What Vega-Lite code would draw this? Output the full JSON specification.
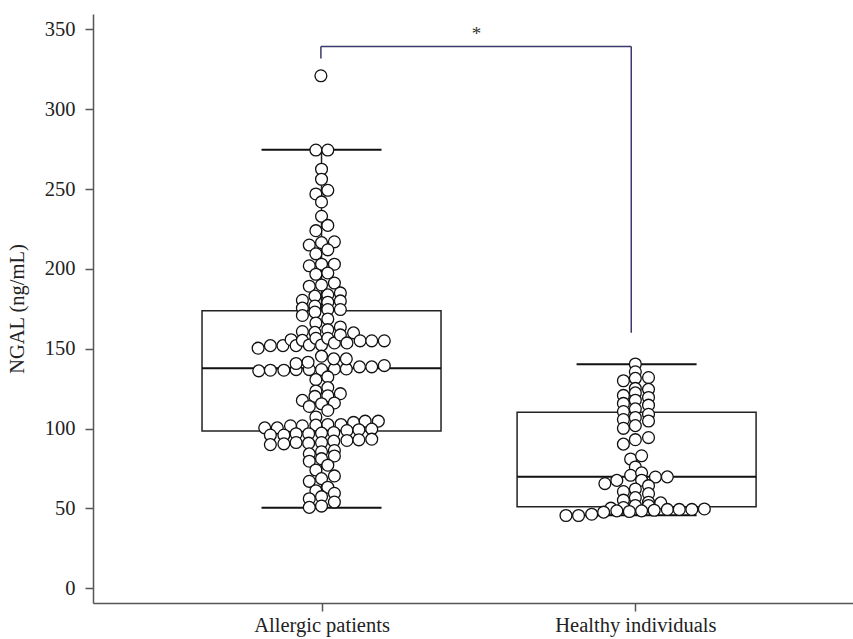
{
  "$schema": "https://vega.github.io/schema/vega-lite/v6.json",
  "width": 760,
  "height": 589,
  "autosize": {"type": "none"},
  "padding": {"left": 93, "top": 14, "right": 0, "bottom": 36},
  "background": "white",
  "config": {
    "view": {"stroke": null},
    "axis": {
      "domainColor": "#555555",
      "domainWidth": 1.5,
      "tickColor": "#555555",
      "tickWidth": 1.5,
      "tickSize": 8,
      "grid": false,
      "labelFont": "Liberation Serif",
      "labelFontSize": 20.5,
      "labelColor": "#222222",
      "titleFont": "Liberation Serif",
      "titleFontSize": 20.5,
      "titleFontWeight": "normal",
      "titleColor": "#222222"
    }
  },
  "datasets": {
    "summary": [
      {"group": "Allergic patients", "pos": 1.0, "lo": 50.5, "q1": 98.5, "median": 137.8, "q3": 173.8, "hi": 274.6},
      {"group": "Healthy individuals", "pos": 2.004, "lo": 45.7, "q1": 51.1, "median": 69.9, "q3": 110.2, "hi": 140.3}
    ],
    "points": [
      {"group": "Allergic patients", "pos": 0.982, "ngal": 274.5},
      {"group": "Allergic patients", "pos": 1.020, "ngal": 274.5},
      {"group": "Allergic patients", "pos": 1.000, "ngal": 262.5},
      {"group": "Allergic patients", "pos": 1.000, "ngal": 256.2},
      {"group": "Allergic patients", "pos": 0.982, "ngal": 247.0},
      {"group": "Allergic patients", "pos": 1.020, "ngal": 249.3},
      {"group": "Allergic patients", "pos": 1.000, "ngal": 242.0},
      {"group": "Allergic patients", "pos": 1.000, "ngal": 233.0},
      {"group": "Allergic patients", "pos": 0.982, "ngal": 224.0},
      {"group": "Allergic patients", "pos": 1.020, "ngal": 227.3},
      {"group": "Allergic patients", "pos": 0.961, "ngal": 215.0},
      {"group": "Allergic patients", "pos": 1.000, "ngal": 216.5},
      {"group": "Allergic patients", "pos": 1.041, "ngal": 217.0},
      {"group": "Allergic patients", "pos": 0.982, "ngal": 209.5},
      {"group": "Allergic patients", "pos": 1.020, "ngal": 212.0},
      {"group": "Allergic patients", "pos": 0.961, "ngal": 202.0},
      {"group": "Allergic patients", "pos": 1.000, "ngal": 203.0},
      {"group": "Allergic patients", "pos": 1.041, "ngal": 203.0},
      {"group": "Allergic patients", "pos": 0.982, "ngal": 196.7},
      {"group": "Allergic patients", "pos": 1.020, "ngal": 197.5},
      {"group": "Allergic patients", "pos": 0.961, "ngal": 189.2},
      {"group": "Allergic patients", "pos": 1.000, "ngal": 190.0},
      {"group": "Allergic patients", "pos": 1.041, "ngal": 191.2},
      {"group": "Allergic patients", "pos": 0.939, "ngal": 180.4},
      {"group": "Allergic patients", "pos": 0.979, "ngal": 183.0},
      {"group": "Allergic patients", "pos": 1.020, "ngal": 183.8},
      {"group": "Allergic patients", "pos": 1.060, "ngal": 185.0},
      {"group": "Allergic patients", "pos": 0.939, "ngal": 175.5},
      {"group": "Allergic patients", "pos": 0.979, "ngal": 176.8},
      {"group": "Allergic patients", "pos": 1.020, "ngal": 179.2},
      {"group": "Allergic patients", "pos": 1.060, "ngal": 180.0},
      {"group": "Allergic patients", "pos": 0.939, "ngal": 170.9},
      {"group": "Allergic patients", "pos": 0.979, "ngal": 173.0},
      {"group": "Allergic patients", "pos": 1.020, "ngal": 174.6},
      {"group": "Allergic patients", "pos": 1.060, "ngal": 174.6},
      {"group": "Allergic patients", "pos": 0.982, "ngal": 166.2},
      {"group": "Allergic patients", "pos": 1.020, "ngal": 168.7},
      {"group": "Allergic patients", "pos": 0.939, "ngal": 160.8},
      {"group": "Allergic patients", "pos": 0.979, "ngal": 160.3},
      {"group": "Allergic patients", "pos": 1.020, "ngal": 162.0},
      {"group": "Allergic patients", "pos": 1.060, "ngal": 163.7},
      {"group": "Allergic patients", "pos": 1.102, "ngal": 160.0},
      {"group": "Allergic patients", "pos": 0.798, "ngal": 150.4},
      {"group": "Allergic patients", "pos": 0.837, "ngal": 152.0},
      {"group": "Allergic patients", "pos": 0.877, "ngal": 152.0},
      {"group": "Allergic patients", "pos": 0.903, "ngal": 155.7},
      {"group": "Allergic patients", "pos": 0.919, "ngal": 152.0},
      {"group": "Allergic patients", "pos": 0.939, "ngal": 155.3},
      {"group": "Allergic patients", "pos": 0.961, "ngal": 152.4},
      {"group": "Allergic patients", "pos": 0.982, "ngal": 156.6},
      {"group": "Allergic patients", "pos": 1.000, "ngal": 152.4},
      {"group": "Allergic patients", "pos": 1.020, "ngal": 156.6},
      {"group": "Allergic patients", "pos": 1.041, "ngal": 153.7},
      {"group": "Allergic patients", "pos": 1.060, "ngal": 158.7},
      {"group": "Allergic patients", "pos": 1.081, "ngal": 153.7},
      {"group": "Allergic patients", "pos": 1.123, "ngal": 155.0},
      {"group": "Allergic patients", "pos": 1.160, "ngal": 155.0},
      {"group": "Allergic patients", "pos": 1.200, "ngal": 155.0},
      {"group": "Allergic patients", "pos": 0.800, "ngal": 136.2},
      {"group": "Allergic patients", "pos": 0.837, "ngal": 136.6},
      {"group": "Allergic patients", "pos": 0.880, "ngal": 136.6},
      {"group": "Allergic patients", "pos": 0.919, "ngal": 137.0},
      {"group": "Allergic patients", "pos": 0.961, "ngal": 137.0},
      {"group": "Allergic patients", "pos": 1.000, "ngal": 137.0},
      {"group": "Allergic patients", "pos": 1.041, "ngal": 137.4},
      {"group": "Allergic patients", "pos": 1.079, "ngal": 137.4},
      {"group": "Allergic patients", "pos": 1.121, "ngal": 138.7},
      {"group": "Allergic patients", "pos": 1.160, "ngal": 138.7},
      {"group": "Allergic patients", "pos": 1.200, "ngal": 139.5},
      {"group": "Allergic patients", "pos": 1.000, "ngal": 145.4},
      {"group": "Allergic patients", "pos": 0.957, "ngal": 141.6},
      {"group": "Allergic patients", "pos": 0.919, "ngal": 140.8},
      {"group": "Allergic patients", "pos": 1.039, "ngal": 143.7},
      {"group": "Allergic patients", "pos": 1.079, "ngal": 143.7},
      {"group": "Allergic patients", "pos": 0.982, "ngal": 130.7},
      {"group": "Allergic patients", "pos": 1.020, "ngal": 132.4},
      {"group": "Allergic patients", "pos": 0.982, "ngal": 123.6},
      {"group": "Allergic patients", "pos": 1.020, "ngal": 125.7},
      {"group": "Allergic patients", "pos": 1.060, "ngal": 121.9},
      {"group": "Allergic patients", "pos": 0.979, "ngal": 120.2},
      {"group": "Allergic patients", "pos": 0.939, "ngal": 117.7},
      {"group": "Allergic patients", "pos": 1.020, "ngal": 120.6},
      {"group": "Allergic patients", "pos": 0.961, "ngal": 113.9},
      {"group": "Allergic patients", "pos": 1.000, "ngal": 115.6},
      {"group": "Allergic patients", "pos": 1.041, "ngal": 116.1},
      {"group": "Allergic patients", "pos": 1.020, "ngal": 111.4},
      {"group": "Allergic patients", "pos": 0.982, "ngal": 107.3},
      {"group": "Allergic patients", "pos": 0.819, "ngal": 100.5},
      {"group": "Allergic patients", "pos": 0.859, "ngal": 100.5},
      {"group": "Allergic patients", "pos": 0.901, "ngal": 101.8},
      {"group": "Allergic patients", "pos": 0.939, "ngal": 101.8},
      {"group": "Allergic patients", "pos": 0.982, "ngal": 102.2},
      {"group": "Allergic patients", "pos": 1.020, "ngal": 102.6},
      {"group": "Allergic patients", "pos": 1.062, "ngal": 102.6},
      {"group": "Allergic patients", "pos": 1.102, "ngal": 103.9},
      {"group": "Allergic patients", "pos": 1.139, "ngal": 104.7},
      {"group": "Allergic patients", "pos": 1.181, "ngal": 104.7},
      {"group": "Allergic patients", "pos": 0.837, "ngal": 96.0},
      {"group": "Allergic patients", "pos": 0.880, "ngal": 96.0},
      {"group": "Allergic patients", "pos": 0.919, "ngal": 96.8},
      {"group": "Allergic patients", "pos": 0.959, "ngal": 96.8},
      {"group": "Allergic patients", "pos": 1.000, "ngal": 97.2},
      {"group": "Allergic patients", "pos": 1.039, "ngal": 97.6},
      {"group": "Allergic patients", "pos": 1.081, "ngal": 98.8},
      {"group": "Allergic patients", "pos": 1.119, "ngal": 99.3},
      {"group": "Allergic patients", "pos": 1.160, "ngal": 99.7},
      {"group": "Allergic patients", "pos": 0.837, "ngal": 90.0},
      {"group": "Allergic patients", "pos": 0.880, "ngal": 90.5},
      {"group": "Allergic patients", "pos": 0.919, "ngal": 91.3},
      {"group": "Allergic patients", "pos": 0.959, "ngal": 90.9},
      {"group": "Allergic patients", "pos": 1.000, "ngal": 91.3},
      {"group": "Allergic patients", "pos": 1.039, "ngal": 92.2},
      {"group": "Allergic patients", "pos": 1.081, "ngal": 92.6},
      {"group": "Allergic patients", "pos": 1.119, "ngal": 93.0},
      {"group": "Allergic patients", "pos": 1.160, "ngal": 93.4},
      {"group": "Allergic patients", "pos": 0.961, "ngal": 84.2},
      {"group": "Allergic patients", "pos": 1.000, "ngal": 85.5},
      {"group": "Allergic patients", "pos": 1.041, "ngal": 86.3},
      {"group": "Allergic patients", "pos": 0.961, "ngal": 79.6},
      {"group": "Allergic patients", "pos": 1.000, "ngal": 81.2},
      {"group": "Allergic patients", "pos": 1.041, "ngal": 82.9},
      {"group": "Allergic patients", "pos": 0.982, "ngal": 74.1},
      {"group": "Allergic patients", "pos": 1.020, "ngal": 77.1},
      {"group": "Allergic patients", "pos": 0.961, "ngal": 67.0},
      {"group": "Allergic patients", "pos": 1.000, "ngal": 68.7},
      {"group": "Allergic patients", "pos": 1.041, "ngal": 70.4},
      {"group": "Allergic patients", "pos": 0.982, "ngal": 61.1},
      {"group": "Allergic patients", "pos": 1.020, "ngal": 63.3},
      {"group": "Allergic patients", "pos": 1.041, "ngal": 59.5},
      {"group": "Allergic patients", "pos": 0.961, "ngal": 56.1},
      {"group": "Allergic patients", "pos": 1.000, "ngal": 57.4},
      {"group": "Allergic patients", "pos": 1.041, "ngal": 54.0},
      {"group": "Allergic patients", "pos": 0.961, "ngal": 50.7},
      {"group": "Allergic patients", "pos": 1.000, "ngal": 51.5},
      {"group": "Allergic patients", "pos": 0.998, "ngal": 321.0},
      {"group": "Healthy individuals", "pos": 2.000, "ngal": 140.5},
      {"group": "Healthy individuals", "pos": 2.000, "ngal": 135.6},
      {"group": "Healthy individuals", "pos": 1.962, "ngal": 130.0},
      {"group": "Healthy individuals", "pos": 2.000, "ngal": 131.5},
      {"group": "Healthy individuals", "pos": 2.042, "ngal": 132.0},
      {"group": "Healthy individuals", "pos": 2.000, "ngal": 125.2},
      {"group": "Healthy individuals", "pos": 2.042, "ngal": 124.6},
      {"group": "Healthy individuals", "pos": 1.962, "ngal": 120.8},
      {"group": "Healthy individuals", "pos": 2.000, "ngal": 122.4},
      {"group": "Healthy individuals", "pos": 2.042, "ngal": 119.5},
      {"group": "Healthy individuals", "pos": 1.962, "ngal": 115.8},
      {"group": "Healthy individuals", "pos": 2.000, "ngal": 117.8},
      {"group": "Healthy individuals", "pos": 2.042, "ngal": 114.7},
      {"group": "Healthy individuals", "pos": 1.962, "ngal": 110.7},
      {"group": "Healthy individuals", "pos": 2.000, "ngal": 112.4},
      {"group": "Healthy individuals", "pos": 2.042, "ngal": 109.0},
      {"group": "Healthy individuals", "pos": 1.962, "ngal": 105.7},
      {"group": "Healthy individuals", "pos": 2.000, "ngal": 107.0},
      {"group": "Healthy individuals", "pos": 2.042, "ngal": 104.8},
      {"group": "Healthy individuals", "pos": 1.962, "ngal": 100.2},
      {"group": "Healthy individuals", "pos": 2.000, "ngal": 101.9},
      {"group": "Healthy individuals", "pos": 1.962, "ngal": 90.3},
      {"group": "Healthy individuals", "pos": 2.000, "ngal": 93.1},
      {"group": "Healthy individuals", "pos": 2.042, "ngal": 94.4},
      {"group": "Healthy individuals", "pos": 1.985, "ngal": 81.0},
      {"group": "Healthy individuals", "pos": 2.020, "ngal": 83.0},
      {"group": "Healthy individuals", "pos": 2.000, "ngal": 76.0},
      {"group": "Healthy individuals", "pos": 1.985, "ngal": 70.8},
      {"group": "Healthy individuals", "pos": 2.020, "ngal": 72.3},
      {"group": "Healthy individuals", "pos": 2.064, "ngal": 69.7},
      {"group": "Healthy individuals", "pos": 2.102, "ngal": 69.8},
      {"group": "Healthy individuals", "pos": 1.903, "ngal": 65.6},
      {"group": "Healthy individuals", "pos": 1.941, "ngal": 67.6},
      {"group": "Healthy individuals", "pos": 2.020, "ngal": 67.7},
      {"group": "Healthy individuals", "pos": 2.042, "ngal": 64.3},
      {"group": "Healthy individuals", "pos": 1.962, "ngal": 60.6},
      {"group": "Healthy individuals", "pos": 2.000, "ngal": 62.2},
      {"group": "Healthy individuals", "pos": 2.042, "ngal": 59.3},
      {"group": "Healthy individuals", "pos": 1.962, "ngal": 55.2},
      {"group": "Healthy individuals", "pos": 2.000, "ngal": 56.8},
      {"group": "Healthy individuals", "pos": 2.042, "ngal": 53.9},
      {"group": "Healthy individuals", "pos": 1.922, "ngal": 50.2},
      {"group": "Healthy individuals", "pos": 1.962, "ngal": 50.6},
      {"group": "Healthy individuals", "pos": 2.000, "ngal": 51.9},
      {"group": "Healthy individuals", "pos": 2.042, "ngal": 51.9},
      {"group": "Healthy individuals", "pos": 2.081, "ngal": 53.5},
      {"group": "Healthy individuals", "pos": 1.779, "ngal": 45.6},
      {"group": "Healthy individuals", "pos": 1.819, "ngal": 45.6},
      {"group": "Healthy individuals", "pos": 1.861, "ngal": 46.4},
      {"group": "Healthy individuals", "pos": 1.899, "ngal": 47.7},
      {"group": "Healthy individuals", "pos": 1.941, "ngal": 48.5},
      {"group": "Healthy individuals", "pos": 1.981, "ngal": 48.1},
      {"group": "Healthy individuals", "pos": 2.020, "ngal": 48.5},
      {"group": "Healthy individuals", "pos": 2.060, "ngal": 48.9},
      {"group": "Healthy individuals", "pos": 2.102, "ngal": 49.4},
      {"group": "Healthy individuals", "pos": 2.140, "ngal": 49.4},
      {"group": "Healthy individuals", "pos": 2.180, "ngal": 49.4},
      {"group": "Healthy individuals", "pos": 2.220, "ngal": 49.7}
    ],
    "bracket": [
      {"pos": 0.998, "pos2": 1.987, "y": 339.3, "y2": 339.3},
      {"pos": 0.998, "pos2": 0.998, "y": 339.3, "y2": 331.8},
      {"pos": 1.987, "pos2": 1.987, "y": 339.3, "y2": 160.0}
    ],
    "annotation": [
      {"pos": 1.494, "y": 343.5, "label": "*"}
    ]
  },
  "layer": [
    {
      "data": {"name": "summary"},
      "mark": {"type": "rule", "color": "#222222", "strokeWidth": 1.5},
      "encoding": {
        "x": {
          "field": "pos", "type": "quantitative",
          "scale": {"domain": [0.2877, 2.6777], "nice": false, "zero": false},
          "axis": {
            "values": [1, 2],
            "labelExpr": "datum.value == 1 ? 'Allergic patients' : 'Healthy individuals'",
            "title": null,
            "labelPadding": 4
          }
        },
        "y": {
          "field": "lo", "type": "quantitative",
          "scale": {"domain": [-9.2, 359.7], "nice": false, "zero": false},
          "axis": {
            "values": [0, 50, 100, 150, 200, 250, 300, 350],
            "title": "NGAL (ng/mL)",
            "titleX": -66,
            "labelPadding": 10
          }
        },
        "y2": {"field": "hi"}
      }
    },
    {
      "data": {"name": "summary"},
      "mark": {"type": "bar", "width": 239, "fill": "white", "stroke": "#222222", "strokeWidth": 1.5},
      "encoding": {
        "x": {"field": "pos", "type": "quantitative"},
        "y": {"field": "q1", "type": "quantitative"},
        "y2": {"field": "q3"}
      }
    },
    {
      "data": {"name": "summary"},
      "mark": {"type": "tick", "orient": "horizontal", "size": 239, "thickness": 2, "color": "#111111", "opacity": 1},
      "encoding": {
        "x": {"field": "pos", "type": "quantitative"},
        "y": {"field": "median", "type": "quantitative"}
      }
    },
    {
      "data": {"name": "summary"},
      "mark": {"type": "tick", "orient": "horizontal", "size": 120, "thickness": 2, "color": "#111111", "opacity": 1},
      "encoding": {
        "x": {"field": "pos", "type": "quantitative"},
        "y": {"field": "lo", "type": "quantitative"}
      }
    },
    {
      "data": {"name": "summary"},
      "mark": {"type": "tick", "orient": "horizontal", "size": 120, "thickness": 2, "color": "#111111", "opacity": 1},
      "encoding": {
        "x": {"field": "pos", "type": "quantitative"},
        "y": {"field": "hi", "type": "quantitative"}
      }
    },
    {
      "data": {"name": "points"},
      "mark": {"type": "point", "shape": "circle", "filled": false, "fill": "white", "fillOpacity": 1, "stroke": "#111111", "strokeWidth": 1.3, "size": 140, "opacity": 1},
      "encoding": {
        "x": {"field": "pos", "type": "quantitative"},
        "y": {"field": "ngal", "type": "quantitative"}
      }
    },
    {
      "data": {"name": "bracket"},
      "mark": {"type": "rule", "color": "#3b3a6e", "strokeWidth": 1.5},
      "encoding": {
        "x": {"field": "pos", "type": "quantitative"},
        "x2": {"field": "pos2"},
        "y": {"field": "y", "type": "quantitative"},
        "y2": {"field": "y2"}
      }
    },
    {
      "data": {"name": "annotation"},
      "mark": {"type": "text", "font": "Liberation Serif", "fontSize": 19, "color": "#333333", "baseline": "alphabetic", "align": "center"},
      "encoding": {
        "x": {"field": "pos", "type": "quantitative"},
        "y": {"field": "y", "type": "quantitative"},
        "text": {"field": "label"}
      }
    }
  ]
}
